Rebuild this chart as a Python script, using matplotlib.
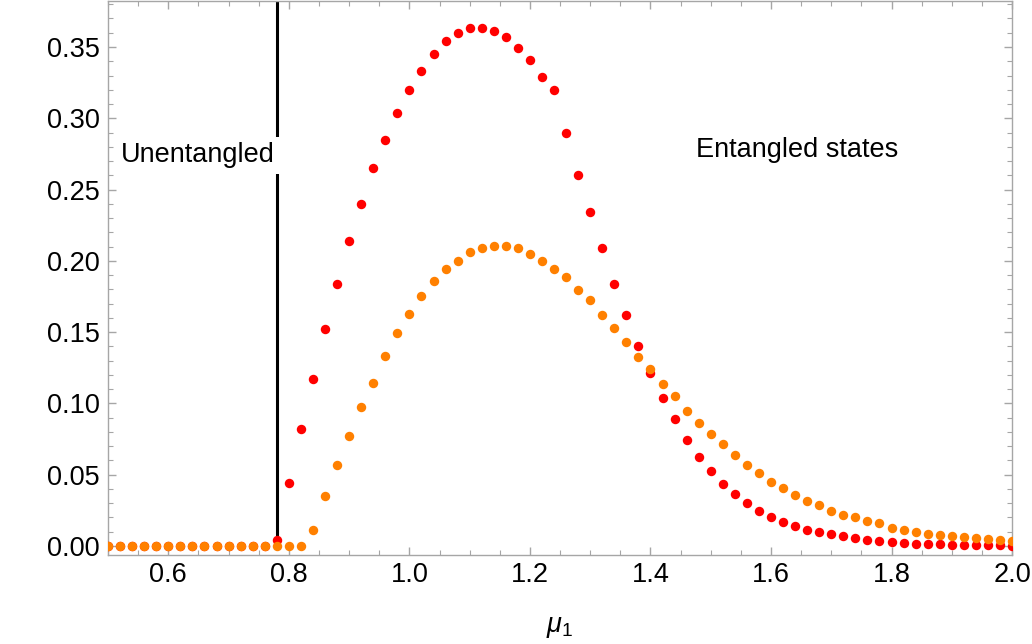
import matplotlib
matplotlib.use("Agg")
import matplotlib.pyplot as plt
from matplotlib.ticker import MultipleLocator, FormatStrFormatter

plt.rcParams["font.family"] = ["Liberation Sans", "DejaVu Sans"]
plt.rcParams["mathtext.fontset"] = "custom"
plt.rcParams["mathtext.it"] = "Liberation Sans:italic"
plt.rcParams["mathtext.rm"] = "Liberation Sans"

# sampling grid of mu_1
mu = [0.50, 0.52, 0.54, 0.56, 0.58, 0.60, 0.62, 0.64, 0.66, 0.68,
      0.70, 0.72, 0.74, 0.76, 0.78, 0.80, 0.82, 0.84, 0.86, 0.88,
      0.90, 0.92, 0.94, 0.96, 0.98, 1.00, 1.02, 1.04, 1.06, 1.08,
      1.10, 1.12, 1.14, 1.16, 1.18, 1.20, 1.22, 1.24, 1.26, 1.28,
      1.30, 1.32, 1.34, 1.36, 1.38, 1.40, 1.42, 1.44, 1.46, 1.48,
      1.50, 1.52, 1.54, 1.56, 1.58, 1.60, 1.62, 1.64, 1.66, 1.68,
      1.70, 1.72, 1.74, 1.76, 1.78, 1.80, 1.82, 1.84, 1.86, 1.88,
      1.90, 1.92, 1.94, 1.96, 1.98, 2.00]

# red series
red_vals = [0, 0, 0, 0, 0, 0, 0, 0, 0, 0,
            0, 0, 0, 0, 0.004, 0.044, 0.082, 0.117, 0.152, 0.184,
            0.214, 0.240, 0.265, 0.285, 0.304, 0.320, 0.333, 0.345, 0.354, 0.360,
            0.363, 0.363, 0.361, 0.357, 0.349, 0.341, 0.329, 0.320, 0.2895, 0.260,
            0.234, 0.209, 0.184, 0.162, 0.140, 0.121, 0.1035, 0.0888, 0.0742, 0.0625,
            0.0522, 0.0434, 0.0361, 0.0302, 0.0244, 0.0199, 0.0169, 0.0141, 0.0113, 0.0096,
            0.0080, 0.0067, 0.0055, 0.0042, 0.0036, 0.0026, 0.0022, 0.0013, 0.0011, 0.0010,
            0.0009, 0.0008, 0.0007, 0.0006, 0.0003, 0.0002]

# orange series
orange_vals = [0, 0, 0, 0, 0, 0, 0, 0, 0, 0,
               0, 0, 0, 0, 0, 0, 0, 0.0112, 0.0347, 0.0567,
               0.0771, 0.0977, 0.1145, 0.133, 0.149, 0.163, 0.175, 0.1855, 0.1944, 0.200,
               0.206, 0.209, 0.2104, 0.2104, 0.209, 0.2045, 0.200, 0.194, 0.1886, 0.1797,
               0.1724, 0.162, 0.153, 0.143, 0.1328, 0.124, 0.1136, 0.105, 0.0946, 0.086,
               0.0785, 0.0715, 0.064, 0.0567, 0.0508, 0.045, 0.0405, 0.036, 0.0318, 0.0288,
               0.0244, 0.0216, 0.0202, 0.0171, 0.0157, 0.0126, 0.0112, 0.0098, 0.0086, 0.0078,
               0.0068, 0.0060, 0.0053, 0.0046, 0.0041, 0.0036]

mu_cut = 0.78

fig = plt.figure(figsize=(10.32, 6.44), dpi=100)
ax = fig.add_axes([0.1047, 0.138, 0.876, 0.8605])

ax.vlines(mu_cut, 0, 0.4, color="black", lw=2.2, zorder=2)
ax.plot(mu, red_vals, "o", color="#ff0000", ms=6.8, mec="none", zorder=3)
ax.plot(mu, orange_vals, "o", color="#ff8000", ms=6.8, mec="none", zorder=4)

ax.text(0.649, 0.274, "Unentangled", fontsize=19.5, ha="center", va="center",
        bbox=dict(facecolor="white", edgecolor="none", pad=4), zorder=2.5)
ax.text(1.644, 0.2776, "Entangled states", fontsize=19.5, ha="center", va="center")

ax.set_xlim(0.5, 2.0)
ax.set_ylim(-0.0065, 0.3823)
ax.set_xlabel(r"$\mu_1$", fontsize=19.5, labelpad=19)

ax.xaxis.set_major_locator(MultipleLocator(0.2))
ax.xaxis.set_minor_locator(MultipleLocator(0.05))
ax.yaxis.set_major_locator(MultipleLocator(0.05))
ax.yaxis.set_minor_locator(MultipleLocator(0.01))
ax.xaxis.set_major_formatter(FormatStrFormatter("%.1f"))
ax.yaxis.set_major_formatter(FormatStrFormatter("%.2f"))

frame = "#a6a6a6"
for s in ax.spines.values():
    s.set_color(frame)
    s.set_linewidth(1.0)
ax.tick_params(which="both", direction="in", top=True, right=True,
               color=frame, labelsize=19.5, labelcolor="black")
ax.tick_params(which="major", length=6, width=1.0)
ax.tick_params(which="minor", length=3.5, width=0.8)
ax.tick_params(axis="x", pad=5)
ax.tick_params(axis="y", pad=6)

fig.savefig("out.png", dpi=100)
